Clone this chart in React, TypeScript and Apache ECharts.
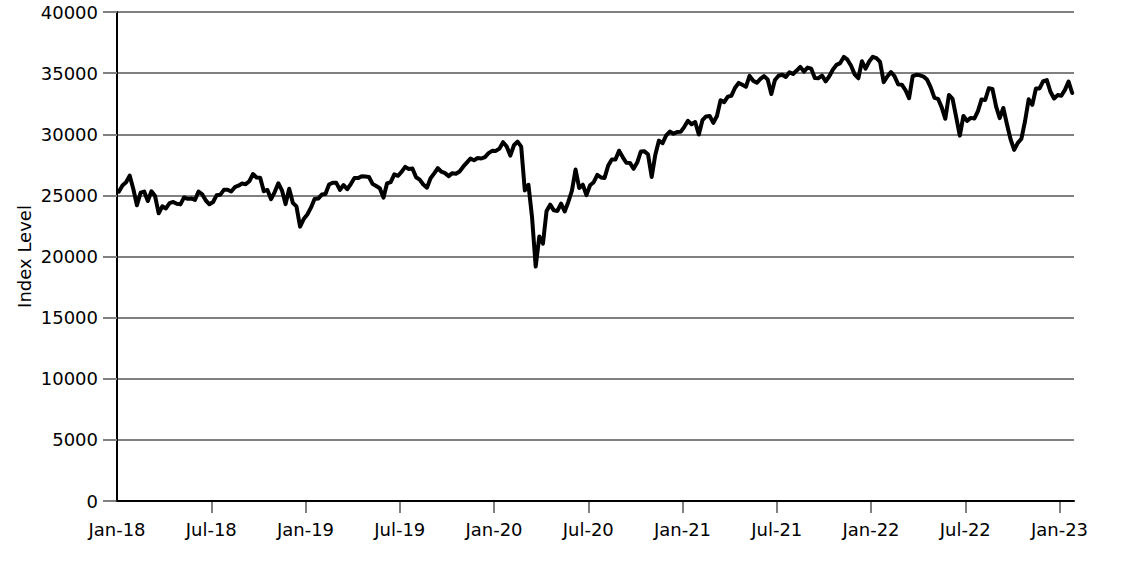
import React, { useEffect, useRef } from "react";
import * as echarts from "echarts";

// Weekly index level (week-ending Fridays), first week ending 5 Jan 2018
const FIRST_WEEK = [2018, 0, 5];

const values2018 = [
  25296, 25803, 26072, 26617, 25521, 24191, 25219, 25310, 24538, 25336, 24947, 23533, 24103,
  23933, 24360, 24463, 24311, 24263, 24831, 24715, 24753, 24635, 25317, 25090, 24581, 24271,
  24456, 25019, 25058, 25451, 25463, 25313, 25669, 25790, 25965, 25917, 26155, 26744, 26458,
  26447, 25340, 25444, 24688, 25271, 25989, 25413, 24286, 25538, 24389, 24101, 22445, 23062,
];
const values2019 = [
  23433, 23996, 24706, 24737, 25064, 25106, 25883, 26032, 26026, 25450, 25849, 25502, 25929,
  26425, 26412, 26560, 26543, 26505, 25942, 25764, 25586, 24815, 25984, 26090, 26719, 26600,
  26922, 27332, 27154, 27192, 26485, 26287, 25886, 25629, 26403, 26797, 27220, 26935, 26820,
  26574, 26817, 26770, 26958, 27347, 27681, 28005, 27876, 28051, 28015, 28135, 28455, 28645,
];
const values2020 = [
  28635, 28824, 29348, 28990, 28256, 29103, 29398, 28992, 25409, 25865, 23186, 19174, 21637,
  21053, 23719, 24242, 23775, 23724, 24331, 23685, 24465, 25383, 27111, 25606, 25871, 25016,
  25827, 26075, 26672, 26470, 26428, 27433, 27931, 27930, 28654, 28133, 27666, 27657, 27174,
  27683, 28587, 28606, 28336, 26502, 28323, 29480, 29263, 29910, 30218, 30046, 30179, 30200,
];
const values2021 = [
  30606, 31098, 30814, 30997, 29983, 31148, 31458, 31494, 30932, 31496, 32779, 32628, 33073,
  33153, 33801, 34201, 34043, 33875, 34778, 34382, 34208, 34529, 34756, 34480, 33290, 34434,
  34786, 34870, 34688, 35062, 34935, 35209, 35515, 35120, 35456, 35369, 34608, 34585, 34798,
  34326, 34746, 35295, 35677, 35820, 36328, 36100, 35602, 34899, 34580, 35971, 35365, 35951,
  36338,
];
const values2022 = [
  36232, 35912, 34265, 34725, 35090, 34738, 34079, 34059, 33615, 32944, 34755, 34861, 34818,
  34721, 34451, 33811, 32977, 32899, 32197, 31262, 33213, 32900, 31393, 29889, 31501, 31097,
  31338, 31288, 31899, 32845, 32803, 33761, 33707, 32283, 31318, 32152, 30822, 29590, 28726,
  29297, 29635, 31083, 32862, 32403, 33748, 33746, 34347, 34430, 33476, 32920, 33204, 33147,
];
const values2023 = [33631, 34303, 33375];

// A label every 26 weeks (half a year), placed on week boundaries
const LABEL_EVERY = 26;
const tickLabels = [
  "Jan-18", "Jul-18", "Jan-19", "Jul-19", "Jan-20", "Jul-20",
  "Jan-21", "Jul-21", "Jan-22", "Jul-22", "Jan-23",
];

const Y_MIN = 0;
const Y_MAX = 40000;
const Y_STEP = 5000;

const FONT = "DejaVu Sans";

const pad = (n: number) => (n < 10 ? "0" + n : String(n));

export default function App() {
  const ref = useRef<HTMLDivElement>(null);

  useEffect(() => {
    if (!ref.current) return;
    const chart = echarts.init(ref.current, null, { renderer: "svg" });

    const allValues = [
      ...values2018,
      ...values2019,
      ...values2020,
      ...values2021,
      ...values2022,
      ...values2023,
    ];
    const n = allValues.length;
    const weeks = allValues.map((_, i) => {
      const d = new Date(FIRST_WEEK[0], FIRST_WEEK[1], FIRST_WEEK[2] + 7 * i);
      return `${d.getFullYear()}-${pad(d.getMonth() + 1)}-${pad(d.getDate())}`;
    });
    const boundaryPositions = tickLabels.map((_, k) => k * LABEL_EVERY);

    chart.setOption({
      animation: false,
      backgroundColor: "#ffffff",
      grid: { left: 117, right: 72, top: 12, bottom: 72, containLabel: false },
      xAxis: [
        {
          type: "category",
          data: weeks,
          boundaryGap: true,
          axisLine: { show: true, onZero: false, lineStyle: { color: "#000", width: 2 } },
          axisTick: { show: false },
          axisLabel: { show: false },
          splitLine: { show: false },
          z: 3,
        },
        {
          // week-boundary scale used only for the half-year ticks and labels
          type: "value",
          position: "bottom",
          min: 0,
          max: n,
          axisLine: { show: false },
          axisTick: {
            show: true,
            length: 12,
            customValues: boundaryPositions.slice(1),
            lineStyle: { color: "#808080", width: 2 },
          },
          axisLabel: {
            show: true,
            customValues: boundaryPositions,
            formatter: (v: number) => tickLabels[Math.round(v / LABEL_EVERY)],
            color: "#000",
            fontFamily: FONT,
            fontSize: 18,
            margin: 19,
            hideOverlap: false,
            showMinLabel: true,
          },
          splitLine: { show: false },
        },
      ],
      yAxis: {
        type: "value",
        min: Y_MIN,
        max: Y_MAX,
        interval: Y_STEP,
        name: "Index Level",
        nameLocation: "middle",
        nameGap: 93,
        nameMoveOverlap: false,
        nameTextStyle: {
          color: "#000",
          fontFamily: FONT,
          fontSize: 18,
          verticalAlign: "middle",
        },
        axisLine: { show: true, onZero: false, lineStyle: { color: "#000", width: 2 } },
        axisTick: { show: true, length: 14, lineStyle: { color: "#808080", width: 2 } },
        axisLabel: {
          color: "#000",
          fontFamily: FONT,
          fontSize: 18,
          margin: 19,
          formatter: (v: number) => String(v),
        },
        splitLine: { show: true, lineStyle: { color: "#808080", width: 2 } },
      },
      series: [
        {
          type: "line",
          xAxisIndex: 0,
          data: allValues,
          showSymbol: false,
          symbol: "none",
          lineStyle: { color: "#000", width: 4, join: "round", cap: "round" },
          z: 5,
        },
      ],
    });

    return () => chart.dispose();
  }, []);

  return (
    <div
      ref={ref}
      style={{ position: "absolute", left: 0, top: 0, width: 1146, height: 573 }}
    />
  );
}
